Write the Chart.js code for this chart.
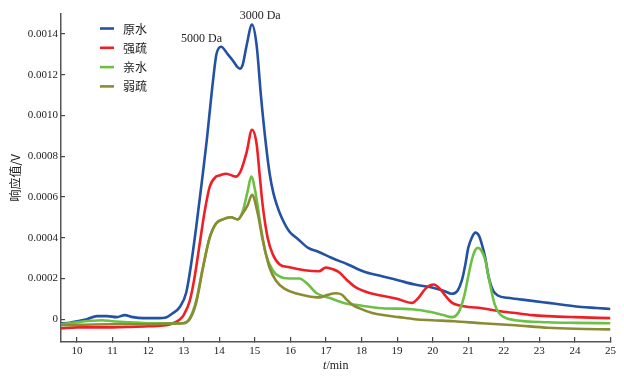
<!DOCTYPE html>
<html>
<head>
<meta charset="utf-8">
<script src="https://cdn.jsdelivr.net/npm/chart.js@4.4.1/dist/chart.umd.min.js"></script>
<style>
html,body{margin:0;padding:0;background:#fff;}
#wrap{width:624px;height:378px;position:relative;}
</style>
</head>
<body>
<div id="wrap"><canvas id="c" width="624" height="378"></canvas></div>
<script>
// ---- data ----
const seriesNames = ['原水', '强疏', '亲水', '弱疏'];
const xTickValues = [10,11,12,13,14,15,16,17,18,19,20,21,22,23,24,25];
const yTickValues = [0,0.0002,0.0004,0.0006,0.0008,0.0010,0.0012,0.0014];

const blueT = [9.55,9.8,10.0,10.28,10.56,10.84,11.12,11.34,11.57,11.85,12.24,12.52,12.7,12.89,13.07,13.2,13.35,13.5,13.65,13.75,13.83,13.92,14.05,14.24,14.38,14.5,14.58,14.66,14.77,14.92,15.05,15.17,15.31,15.42,15.52,15.62,15.75,15.97,16.2,16.5,16.8,17.17,17.6,18.12,18.6,19.05,19.5,19.98,20.3,20.54,20.7,20.82,20.92,21.0,21.1,21.2,21.3,21.38,21.48,21.57,21.7,21.85,22.1,22.32,22.8,23.25,23.7,24.18,24.6,25.0];
const blueV = [-0.00002,-0.000018,-0.00001,0.0,0.000015,0.000015,0.00001,0.00002,0.00001,0.000005,0.000005,0.00001,0.00003,0.00006,0.00013,0.00026,0.00045,0.00066,0.00088,0.00105,0.00118,0.0013,0.001337,0.0013,0.00127,0.00124,0.00123,0.00125,0.001345,0.001446,0.001345,0.0011,0.00086,0.00071,0.00062,0.00056,0.0005,0.00043,0.000395,0.00035,0.00033,0.0003,0.00027,0.00023,0.00021,0.00019,0.00017,0.000155,0.00014,0.000125,0.00014,0.00019,0.00027,0.00035,0.0004,0.000425,0.00041,0.00037,0.0003,0.00021,0.00014,0.000115,0.000105,0.0001,0.00009,0.00008,0.00007,0.00006,0.000055,0.00005];

const redT = [9.55,10.0,10.5,11.0,11.5,12.0,12.5,12.7,12.9,13.0,13.17,13.3,13.45,13.59,13.73,13.91,14.0,14.19,14.47,14.61,14.77,14.92,15.05,15.14,15.22,15.36,15.5,15.69,15.97,16.4,16.8,17.0,17.2,17.37,17.6,17.84,18.2,18.58,19.0,19.42,19.6,19.8,20.03,20.2,20.36,20.55,20.73,21.0,21.38,21.85,22.32,22.8,23.25,24.0,25.0];
const redV = [-0.000045,-0.00004,-0.00004,-0.00004,-0.000038,-0.000035,-0.00003,-0.00002,0.0,0.00002,0.00009,0.0002,0.00037,0.00053,0.00065,0.0007,0.000705,0.000714,0.0007,0.00073,0.00082,0.00093,0.00086,0.0007,0.00056,0.0004,0.00032,0.00027,0.000255,0.00024,0.000235,0.000254,0.000245,0.00023,0.00019,0.000156,0.00013,0.000115,0.0001,0.00008,0.000105,0.00015,0.00017,0.00015,0.000115,0.00008,0.000068,0.00006,0.000054,0.00004,0.00003,0.00002,0.000015,0.00001,0.000005];

const greenT = [9.55,10.0,10.4,10.7,11.0,11.5,12.0,12.5,12.98,13.17,13.35,13.54,13.73,13.91,14.1,14.33,14.52,14.66,14.8,14.9,15.03,15.17,15.31,15.5,15.69,15.97,16.25,16.5,16.72,17.17,17.5,17.93,18.58,19.42,19.98,20.3,20.54,20.73,20.85,20.92,21.0,21.1,21.2,21.27,21.36,21.48,21.57,21.65,21.75,21.85,22.0,22.32,23.25,24.0,25.0];
const greenV = [-0.000025,-0.000015,-0.000008,-0.000005,-0.00001,-0.000015,-0.00002,-0.00002,-0.00002,0.000005,0.00009,0.000255,0.0004,0.00047,0.00049,0.0005,0.00049,0.00053,0.00063,0.0007,0.00061,0.00045,0.00032,0.00024,0.00021,0.0002,0.0002,0.00017,0.00013,0.0001,0.00008,0.000068,0.000054,0.000049,0.000034,0.00002,0.00001,0.000034,0.00009,0.00014,0.00021,0.00029,0.00034,0.00035,0.00034,0.00029,0.00021,0.00014,0.00007,0.000034,0.00001,-0.000005,-0.000015,-0.000018,-0.00002];

const oliveT = [9.55,10.0,11.0,12.0,12.6,12.98,13.17,13.35,13.54,13.73,13.91,14.1,14.33,14.52,14.66,14.8,14.92,15.08,15.22,15.41,15.59,15.83,16.2,16.44,16.8,17.05,17.28,17.45,17.56,17.75,17.93,18.3,18.7,19.05,19.5,19.98,20.6,21.38,22.32,23.25,24.0,25.0];
const oliveV = [-0.00003,-0.000028,-0.000025,-0.000025,-0.000022,-0.00002,0.0,0.00008,0.00025,0.0004,0.00047,0.00049,0.0005,0.00049,0.00052,0.00056,0.00061,0.00052,0.00039,0.000255,0.00019,0.00015,0.000125,0.000115,0.000107,0.00012,0.000127,0.00012,0.0001,0.00007,0.000054,0.00003,0.000018,0.00001,0.0,-0.000005,-0.00001,-0.00002,-0.00003,-0.000042,-0.000047,-0.00005];

const annoLabels = ['5000 Da', '3000 Da'];
const annoT = [13.5, 15.15];
const annoV = [0.001376, 0.001488];

// ---- build ----
const colors = ['#2352a3', '#ee1f26', '#6cc046', '#8b8b34'];
const tArr = [blueT, redT, greenT, oliveT];
const vArr = [blueV, redV, greenV, oliveV];
const datasets = seriesNames.map((n, i) => ({
  label: n,
  data: tArr[i].map((t, j) => ({x: t, y: vArr[i][j]})),
  borderColor: colors[i],
  backgroundColor: colors[i],
  borderWidth: 2.6,
  pointRadius: 0,
  cubicInterpolationMode: 'monotone',
  order: 3 - i
}));

const serif = "'Liberation Serif', 'Times New Roman', serif";
const cjk = "'Noto Sans CJK SC', sans-serif";

const decor = {
  id: 'decor',
  afterDraw(chart) {
    const ctx = chart.ctx;
    const xs = chart.scales.x, ys = chart.scales.y;
    ctx.save();
    // legend
    ctx.font = "12px " + cjk;
    ctx.textBaseline = 'middle';
    ctx.textAlign = 'left';
    for (let i = 0; i < seriesNames.length; i++) {
      const y = 28.5 + i * 19.3;
      ctx.strokeStyle = colors[i];
      ctx.lineWidth = 2.6;
      ctx.beginPath();
      ctx.moveTo(100, y);
      ctx.lineTo(114, y);
      ctx.stroke();
      ctx.fillStyle = '#222';
      ctx.fillText(seriesNames[i], 123, y + 0.5);
    }
    // annotations
    ctx.font = "12px " + serif;
    ctx.textAlign = 'center';
    ctx.fillStyle = '#222';
    for (let i = 0; i < annoLabels.length; i++) {
      ctx.fillText(annoLabels[i], xs.getPixelForValue(annoT[i]), ys.getPixelForValue(annoV[i]));
    }
    // x title: t/min with italic t
    const cx = (chart.chartArea.left + chart.chartArea.right) / 2;
    ctx.textBaseline = 'middle';
    ctx.textAlign = 'left';
    ctx.font = "italic 12px " + serif;
    const wT = ctx.measureText('t').width;
    ctx.font = "12px " + serif;
    const wR = ctx.measureText('/min').width;
    const sx = cx - (wT + wR) / 2;
    ctx.font = "italic 12px " + serif;
    ctx.fillText('t', sx, 366);
    ctx.font = "12px " + serif;
    ctx.fillText('/min', sx + wT, 366);
    // y title
    ctx.translate(15, (chart.chartArea.top + chart.chartArea.bottom) / 2);
    ctx.rotate(-Math.PI / 2);
    ctx.textAlign = 'center';
    ctx.font = "12px " + cjk;
    ctx.fillText('响应值/V', 0, 0);
    ctx.restore();
  }
};

new Chart(document.getElementById('c'), {
  type: 'line',
  data: { datasets },
  options: {
    responsive: false,
    animation: false,
    layout: { padding: { top: 12, right: 12, left: 0, bottom: 0 } },
    plugins: { legend: { display: false }, tooltip: { enabled: false } },
    scales: {
      x: {
        type: 'linear',
        min: 9.55, max: 25,
        afterBuildTicks: s => { s.ticks = xTickValues.map(v => ({value: v})); },
        afterFit: s => { s.height = 36; },
        grid: { drawOnChartArea: false, drawTicks: true, tickLength: -5, color: '#444', lineWidth: 1.2 },
        border: { display: true, color: '#555', width: 1.5 },
        ticks: { font: { family: serif, size: 11 }, color: '#222', padding: 8, maxRotation: 0, autoSkip: false, callback: v => String(v) }
      },
      y: {
        type: 'linear',
        min: -0.000112, max: 0.0015,
        afterBuildTicks: s => { s.ticks = yTickValues.map(v => ({value: v})); },
        afterFit: s => { s.width = 61; },
        grid: { drawOnChartArea: false, drawTicks: true, tickLength: -4, color: '#444', lineWidth: 1.2 },
        border: { display: true, color: '#555', width: 1.5 },
        ticks: { font: { family: serif, size: 11 }, color: '#222', padding: 7, autoSkip: false,
          callback: v => v === 0 ? '0' : v.toFixed(4) }
      }
    }
  },
  plugins: [decor]
});
</script>
</body>
</html>
